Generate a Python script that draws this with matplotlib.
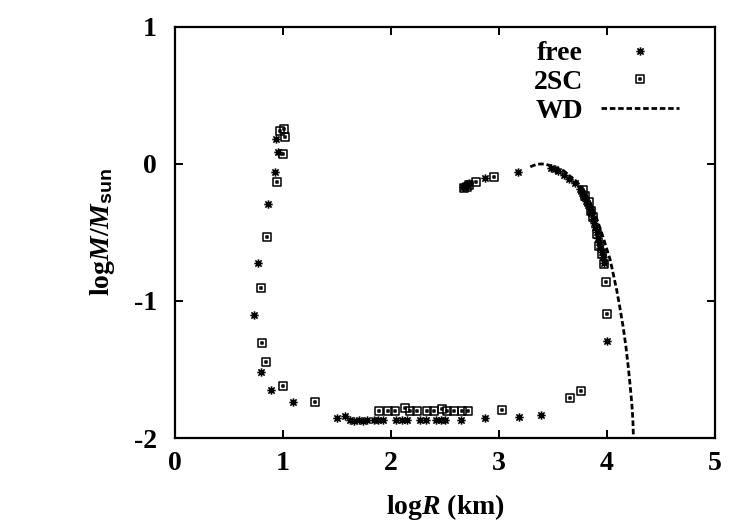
import numpy as np
import matplotlib
matplotlib.use('Agg')
import matplotlib.pyplot as plt
from matplotlib.path import Path

plt.rcParams['font.family'] = 'Liberation Serif'
plt.rcParams['font.weight'] = 'bold'
plt.rcParams['axes.labelweight'] = 'bold'
plt.rcParams['axes.unicode_minus'] = False
plt.rcParams['mathtext.fontset'] = 'custom'
plt.rcParams['mathtext.rm'] = 'Liberation Serif:bold'
plt.rcParams['mathtext.it'] = 'Liberation Serif:bold:italic'
plt.rcParams['mathtext.sf'] = 'Liberation Sans:bold'

# free (stars)
free_x = [0.935, 0.957, 0.926, 0.864, 0.769, 0.728, 0.80, 0.889, 1.09,
          1.50, 1.57, 1.62, 1.66, 1.70, 1.74, 1.78, 1.84, 1.88, 1.93, 2.05, 2.10, 2.15,
          2.27, 2.32, 2.42, 2.46, 2.50, 2.65, 2.87, 3.19, 3.386,
          2.67, 2.69, 2.70, 2.72, 2.87, 3.18,
          3.48, 3.52, 3.55, 3.60, 3.65, 3.70, 3.75, 3.77, 3.79, 3.81, 3.82, 3.84, 3.85,
          3.87, 3.88, 3.89, 3.91, 3.92, 3.93, 3.94, 3.95, 3.96, 3.97, 4.003]
free_y = [0.18, 0.085, -0.061, -0.294, -0.72, -1.10, -1.516, -1.65, -1.735,
          -1.852, -1.84, -1.87, -1.875, -1.87, -1.875, -1.87, -1.865, -1.87, -1.87, -1.87, -1.87, -1.87,
          -1.87, -1.87, -1.87, -1.87, -1.87, -1.87, -1.855, -1.85, -1.83,
          -0.17, -0.16, -0.15, -0.14, -0.105, -0.056,
          -0.03, -0.04, -0.05, -0.08, -0.11, -0.14, -0.18, -0.21, -0.24, -0.27, -0.30, -0.33, -0.36,
          -0.40, -0.43, -0.46, -0.50, -0.54, -0.57, -0.61, -0.64, -0.68, -0.72, -1.292]

# 2SC (squares)
sc_x = [0.972, 1.01, 1.019, 1.003, 0.948, 0.852, 0.796, 0.806, 0.843, 1.003, 1.296,
        1.89, 1.975, 2.04, 2.13, 2.18, 2.24, 2.33, 2.40, 2.47, 2.515, 2.58, 2.655, 2.716, 3.03,
        3.657, 3.76,
        2.68, 2.70, 2.72, 2.79, 2.95,
        3.78, 3.80, 3.83, 3.85, 3.87, 3.91, 3.93, 3.95, 3.975, 3.99, 3.997]
sc_y = [0.243, 0.253, 0.20, 0.073, -0.134, -0.533, -0.903, -1.309, -1.443, -1.618, -1.735,
        -1.803, -1.803, -1.80, -1.78, -1.803, -1.803, -1.803, -1.803, -1.785, -1.803, -1.803, -1.803, -1.803, -1.796,
        -1.706, -1.655,
        -0.175, -0.165, -0.15, -0.13, -0.093,
        -0.19, -0.23, -0.28, -0.34, -0.39, -0.51, -0.60, -0.66, -0.73, -0.86, -1.095]

# WD curve
wd_x = [3.29, 3.34, 3.38, 3.42, 3.47, 3.53, 3.60, 3.66, 3.72, 3.78, 3.83, 3.87, 3.91,
        3.95, 3.99, 4.03, 4.06, 4.09, 4.12, 4.15, 4.175, 4.197, 4.215, 4.23, 4.24, 4.245]
wd_y = [-0.02, -0.005, 0.0, 0.0, -0.01, -0.03, -0.05, -0.09, -0.13, -0.19, -0.26, -0.33, -0.41,
        -0.50, -0.60, -0.70, -0.81, -0.92, -1.05, -1.19, -1.33, -1.48, -1.62, -1.75, -1.87, -2.0]

xticks = [0, 1, 2, 3, 4, 5]
yticks = [-2, -1, 0, 1]

# gnuplot style markers: "*" = plus and cross, square with a dot in it
star = Path([(-1, 0), (1, 0), (0, -1), (0, 1), (-0.75, -0.75), (0.75, 0.75), (-0.75, 0.75), (0.75, -0.75)],
            [Path.MOVETO, Path.LINETO] * 4)
d = 0.22
sq = Path([(-1, -1), (1, -1), (1, 1), (-1, 1), (-1, -1),
           (-d, -d), (d, -d), (d, d), (-d, d), (-d, -d)],
          [Path.MOVETO, Path.LINETO, Path.LINETO, Path.LINETO, Path.CLOSEPOLY] * 2)

fig = plt.figure(figsize=(7.5, 5.25), dpi=100)
ax = fig.add_axes([0.2333, 0.1657, 0.72, 0.7829])

ax.plot(free_x, free_y, ls='none', marker=star, ms=6, mew=1.2, color='black', label='free')
ax.plot(sc_x, sc_y, ls='none', marker=sq, ms=5.8, mew=1.1, mfc='none', color='black', label='2SC')
ax.plot(wd_x, wd_y, ls=(0, (2, 1)), lw=2.0, color='black', label='WD')

ax.set_xlim(0, 5)
ax.set_ylim(-2, 1)
ax.set_xticks(xticks)
ax.set_yticks(yticks)
ax.tick_params(direction='in', length=6, width=1.4, top=True, right=True, labelsize=20)
ax.tick_params(axis='x', pad=9)
ax.tick_params(axis='y', pad=13)
for s in ax.spines.values():
    s.set_linewidth(1.6)

ax.set_xlabel(r'log$R$ (km)', fontsize=20, labelpad=12)
ax.set_ylabel(r'log$M/M_{\mathsf{sun}}$', fontsize=20, labelpad=12)

ax.legend(loc='upper right', bbox_to_anchor=(0.933, 0.966), frameon=False, markerfirst=False,
          fontsize=20, handlelength=2.8, handletextpad=0.65, labelspacing=0.12,
          borderpad=0, borderaxespad=0)

plt.savefig('out.png', dpi=100)
